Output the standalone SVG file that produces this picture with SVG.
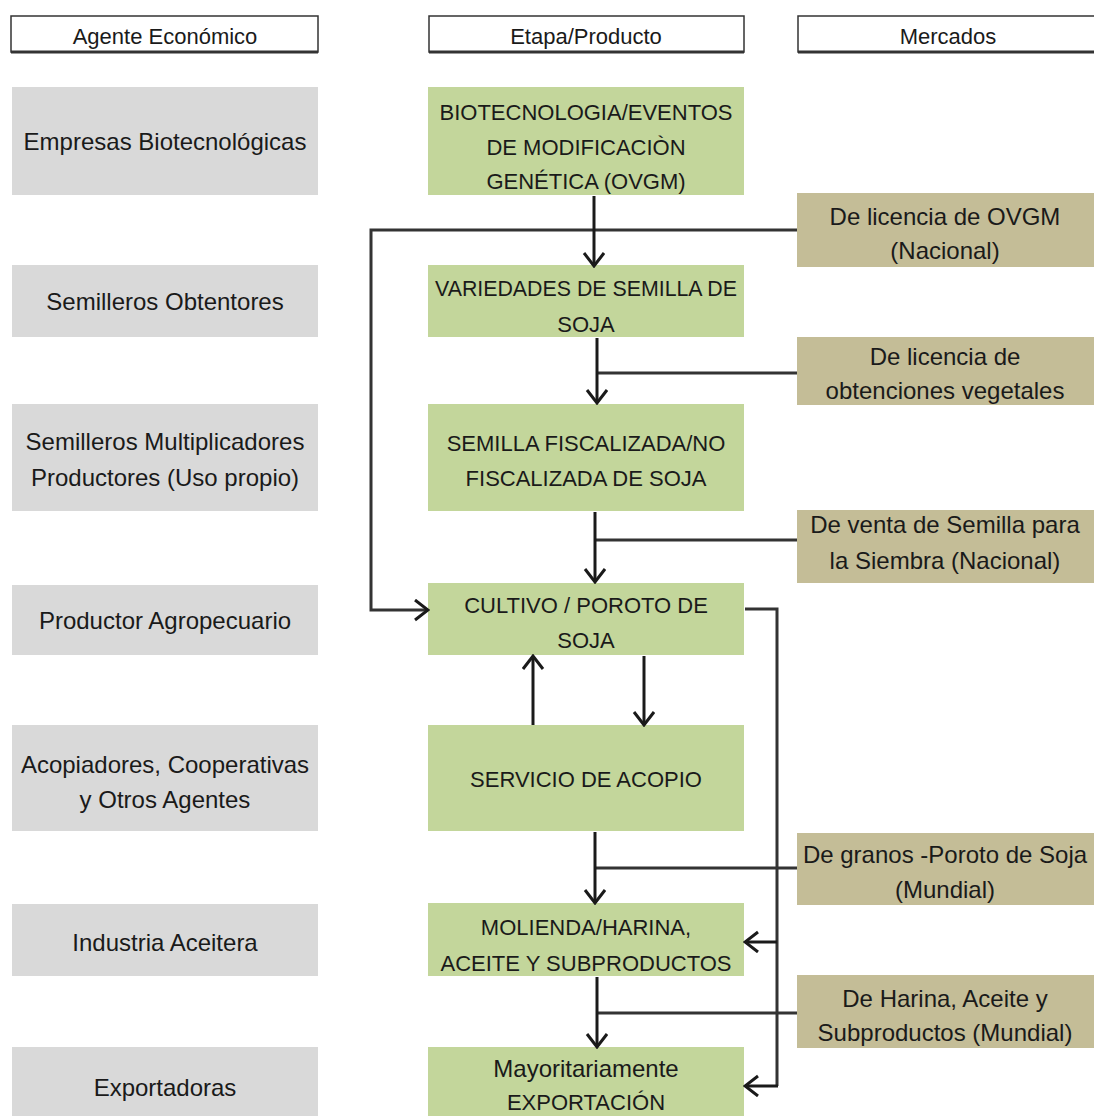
<svg xmlns="http://www.w3.org/2000/svg" width="1094" height="1116" viewBox="0 0 1094 1116">
<style>
text{font-family:"Liberation Sans",Arial,sans-serif;fill:#1a1a1a;text-anchor:middle}
.t{font-size:24px}
.u{font-size:22px}
.h{font-size:22px}
.hdr{fill:#fff;stroke:#333;stroke-width:1.5}
.hb{stroke:#333;stroke-width:3}
.ag{fill:#d9d9d9}
.et{fill:#c3d69b}
.mk{fill:#c4bd97}
.c{fill:none;stroke:#1a1a1a;stroke-width:3}
.m{fill:none;stroke:#333;stroke-width:3}
</style>
<defs>
<marker id="ah" markerWidth="16" markerHeight="24" refX="14" refY="11" orient="auto" markerUnits="userSpaceOnUse">
<path d="M1,1 L14,11 L1,21" fill="none" stroke="#1a1a1a" stroke-width="3"/>
</marker>
</defs>
<g id="headers">
<g id="h-agente"><rect class="hdr" x="11" y="16" width="307" height="36"/><line class="hb" x1="11" y1="52" x2="318" y2="52"/><text class="h" x="165" y="44">Agente Económico</text></g>
<g id="h-etapa"><rect class="hdr" x="429" y="16" width="315" height="36"/><line class="hb" x1="429" y1="52" x2="744" y2="52"/><text class="h" x="586" y="44">Etapa/Producto</text></g>
<g id="h-mercados"><rect class="hdr" x="798" y="16" width="310" height="36"/><line class="hb" x1="798" y1="52" x2="1094" y2="52"/><text class="h" x="948" y="44">Mercados</text></g>
</g>
<g id="agentes">
<g id="a1"><rect class="ag" x="12" y="87" width="306" height="108"/><text class="t" x="165" y="150">Empresas Biotecnológicas</text></g>
<g id="a2"><rect class="ag" x="12" y="265" width="306" height="72"/><text class="t" x="165" y="310">Semilleros Obtentores</text></g>
<g id="a3"><rect class="ag" x="12" y="404" width="306" height="107"/><text class="t" x="165" y="450">Semilleros Multiplicadores</text><text class="t" x="165" y="486">Productores (Uso propio)</text></g>
<g id="a4"><rect class="ag" x="12" y="585" width="306" height="70"/><text class="t" x="165" y="629">Productor Agropecuario</text></g>
<g id="a5"><rect class="ag" x="12" y="725" width="306" height="106"/><text class="t" x="165" y="773">Acopiadores, Cooperativas</text><text class="t" x="165" y="808">y Otros Agentes</text></g>
<g id="a6"><rect class="ag" x="12" y="904" width="306" height="72"/><text class="t" x="165" y="951">Industria Aceitera</text></g>
<g id="a7"><rect class="ag" x="12" y="1047" width="306" height="69"/><text class="t" x="165" y="1096">Exportadoras</text></g>
</g>
<g id="etapas">
<g id="e1"><rect class="et" x="428" y="87" width="316" height="108"/><text class="u" x="586" y="120">BIOTECNOLOGIA/EVENTOS</text><text class="u" x="586" y="155">DE MODIFICACIÒN</text><text class="u" x="586" y="189">GENÉTICA (OVGM)</text></g>
<g id="e2"><rect class="et" x="428" y="265" width="316" height="72"/><text class="u" x="586" y="296" textLength="302" lengthAdjust="spacingAndGlyphs">VARIEDADES DE SEMILLA DE</text><text class="u" x="586" y="332">SOJA</text></g>
<g id="e3"><rect class="et" x="428" y="404" width="316" height="107"/><text class="u" x="586" y="451">SEMILLA FISCALIZADA/NO</text><text class="u" x="586" y="486">FISCALIZADA DE SOJA</text></g>
<g id="e4"><rect class="et" x="428" y="583" width="316" height="72"/><text class="u" x="586" y="613">CULTIVO / POROTO DE</text><text class="u" x="586" y="648">SOJA</text></g>
<g id="e5"><rect class="et" x="428" y="725" width="316" height="106"/><text class="u" x="586" y="787">SERVICIO DE ACOPIO</text></g>
<g id="e6"><rect class="et" x="428" y="903" width="316" height="73"/><text class="u" x="586" y="935">MOLIENDA/HARINA,</text><text class="u" x="586" y="971">ACEITE Y SUBPRODUCTOS</text></g>
<g id="e7"><rect class="et" x="428" y="1047" width="316" height="69"/><text class="t" x="586" y="1077">Mayoritariamente</text><text class="u" x="586" y="1110">EXPORTACIÓN</text></g>
</g>
<g id="mercados">
<g id="m1"><rect class="mk" x="797" y="193" width="297" height="74"/><text class="t" x="945" y="225">De licencia de OVGM</text><text class="t" x="945" y="259">(Nacional)</text></g>
<g id="m2"><rect class="mk" x="797" y="337" width="297" height="68"/><text class="t" x="945" y="365">De licencia de</text><text class="t" x="945" y="399">obtenciones vegetales</text></g>
<g id="m3"><rect class="mk" x="797" y="510" width="297" height="73"/><text class="t" x="945" y="533">De venta de Semilla para</text><text class="t" x="945" y="569">la Siembra (Nacional)</text></g>
<g id="m4"><rect class="mk" x="797" y="833" width="297" height="72"/><text class="t" x="945" y="863">De granos -Poroto de Soja</text><text class="t" x="945" y="898">(Mundial)</text></g>
<g id="m5"><rect class="mk" x="797" y="975" width="297" height="73"/><text class="t" x="945" y="1007">De Harina, Aceite y</text><text class="t" x="945" y="1041">Subproductos (Mundial)</text></g>
</g>
<g id="connectors">
<polyline class="m" points="797,230 371,230 371,610 428,610" marker-end="url(#ah)"/>
<line class="c" x1="594" y1="196" x2="594" y2="266" marker-end="url(#ah)"/>
<line class="m" x1="797" y1="373" x2="597" y2="373"/>
<line class="c" x1="597" y1="338" x2="597" y2="403" marker-end="url(#ah)"/>
<line class="m" x1="797" y1="540" x2="595" y2="540"/>
<line class="c" x1="595" y1="512" x2="595" y2="582" marker-end="url(#ah)"/>
<line class="c" x1="533" y1="725" x2="533" y2="656" marker-end="url(#ah)"/>
<line class="c" x1="644" y1="656" x2="644" y2="725" marker-end="url(#ah)"/>
<polyline class="m" points="745,609 777,609 777,1086"/>
<line class="c" x1="777" y1="942" x2="745" y2="942" marker-end="url(#ah)"/>
<line class="c" x1="778" y1="1086" x2="745" y2="1086" marker-end="url(#ah)"/>
<line class="m" x1="797" y1="868" x2="595" y2="868"/>
<line class="c" x1="595" y1="832" x2="595" y2="903" marker-end="url(#ah)"/>
<line class="m" x1="797" y1="1013" x2="597" y2="1013"/>
<line class="c" x1="597" y1="977" x2="597" y2="1047" marker-end="url(#ah)"/>
</g>
</svg>
